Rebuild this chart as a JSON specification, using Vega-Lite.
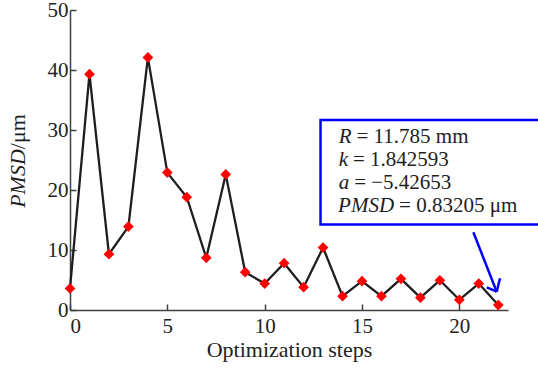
{
  "$schema": "https://vega.github.io/schema/vega-lite/v6.json",
  "width": 438,
  "height": 300,
  "autosize": {"type": "none"},
  "padding": {"left": 70, "top": 10, "right": 30, "bottom": 58},
  "background": "white",
  "config": {
    "view": {"stroke": null},
    "font": "Liberation Serif",
    "axis": {
      "grid": false,
      "domainColor": "#404040",
      "domainWidth": 1.5,
      "tickColor": "#404040",
      "tickWidth": 1.5,
      "tickSize": -6,
      "labelFont": "Liberation Serif",
      "labelFontSize": 21,
      "labelColor": "#222222",
      "titleFont": "Liberation Serif",
      "titleFontSize": 22,
      "titleFontWeight": "normal",
      "titleColor": "#222222"
    }
  },
  "datasets": {
    "series": [
      {"step": 0, "pmsd": 3.6},
      {"step": 1, "pmsd": 39.3},
      {"step": 2, "pmsd": 9.3},
      {"step": 3, "pmsd": 13.9},
      {"step": 4, "pmsd": 42.1},
      {"step": 5, "pmsd": 22.9},
      {"step": 6, "pmsd": 18.8},
      {"step": 7, "pmsd": 8.7},
      {"step": 8, "pmsd": 22.6},
      {"step": 9, "pmsd": 6.3},
      {"step": 10, "pmsd": 4.4},
      {"step": 11, "pmsd": 7.8},
      {"step": 12, "pmsd": 3.8},
      {"step": 13, "pmsd": 10.4},
      {"step": 14, "pmsd": 2.3},
      {"step": 15, "pmsd": 4.8},
      {"step": 16, "pmsd": 2.3},
      {"step": 17, "pmsd": 5.2},
      {"step": 18, "pmsd": 2.05},
      {"step": 19, "pmsd": 4.95},
      {"step": 20, "pmsd": 1.7},
      {"step": 21, "pmsd": 4.4},
      {"step": 22, "pmsd": 0.83}
    ],
    "one": [{"k": 1}]
  },
  "data": {"name": "series"},
  "layer": [
    {
      "mark": {"type": "line", "color": "#1e1e1e", "strokeWidth": 2.3},
      "encoding": {
        "x": {
          "field": "step", "type": "quantitative",
          "scale": {"domain": [0, 22.5], "nice": false, "zero": false},
          "axis": {"values": [0, 5, 10, 15, 20], "labelPadding": 11, "title": "Optimization steps", "titlePadding": 3}
        },
        "y": {
          "field": "pmsd", "type": "quantitative",
          "scale": {"domain": [0, 50], "nice": false},
          "axis": {"values": [0, 10, 20, 30, 40, 50], "labelPadding": 8, "title": null}
        }
      }
    },
    {
      "mark": {"type": "point", "shape": "diamond", "filled": true, "color": "#ff0000", "size": 115, "opacity": 1},
      "encoding": {
        "x": {"field": "step", "type": "quantitative"},
        "y": {"field": "pmsd", "type": "quantitative"}
      }
    },
    {
      "data": {"name": "one"},
      "mark": {"type": "rect", "fill": "white", "stroke": "#0000ff", "strokeWidth": 2.5, "clip": false},
      "encoding": {"x": {"datum": 12.87}, "x2": {"datum": 24.5}, "y": {"datum": 31.67}, "y2": {"datum": 14.25}}
    },
    {
      "data": {"name": "one"},
      "mark": {"type": "text", "text": "R", "font": "Liberation Serif", "fontStyle": "italic", "fontSize": 21, "align": "left", "baseline": "alphabetic", "color": "#1e1e1e"},
      "encoding": {"x": {"datum": 13.8}, "y": {"datum": 27.83}}
    },
    {
      "data": {"name": "one"},
      "mark": {"type": "text", "text": "= 11.785 mm", "font": "Liberation Serif", "fontSize": 21, "align": "left", "baseline": "alphabetic", "dx": 5, "color": "#1e1e1e"},
      "encoding": {"x": {"datum": 14.46}, "y": {"datum": 27.83}}
    },
    {
      "data": {"name": "one"},
      "mark": {"type": "text", "text": "k", "font": "Liberation Serif", "fontStyle": "italic", "fontSize": 21, "align": "left", "baseline": "alphabetic", "color": "#1e1e1e"},
      "encoding": {"x": {"datum": 13.8}, "y": {"datum": 24.0}}
    },
    {
      "data": {"name": "one"},
      "mark": {"type": "text", "text": "= 1.842593", "font": "Liberation Serif", "fontSize": 21, "align": "left", "baseline": "alphabetic", "dx": 5, "color": "#1e1e1e"},
      "encoding": {"x": {"datum": 14.28}, "y": {"datum": 24.0}}
    },
    {
      "data": {"name": "one"},
      "mark": {"type": "text", "text": "a", "font": "Liberation Serif", "fontStyle": "italic", "fontSize": 21, "align": "left", "baseline": "alphabetic", "color": "#1e1e1e"},
      "encoding": {"x": {"datum": 13.8}, "y": {"datum": 20.17}}
    },
    {
      "data": {"name": "one"},
      "mark": {"type": "text", "text": "= −5.42653", "font": "Liberation Serif", "fontStyle": "normal", "fontSize": 21, "align": "left", "baseline": "alphabetic", "dx": 5, "color": "#1e1e1e"},
      "encoding": {"x": {"datum": 14.34}, "y": {"datum": 20.17}}
    },
    {
      "data": {"name": "one"},
      "mark": {"type": "text", "text": "PMSD", "font": "Liberation Serif", "fontStyle": "italic", "fontSize": 21, "align": "left", "baseline": "alphabetic", "color": "#1e1e1e"},
      "encoding": {"x": {"datum": 13.77}, "y": {"datum": 16.33}}
    },
    {
      "data": {"name": "one"},
      "mark": {"type": "text", "text": "= 0.83205 μm", "font": "Liberation Serif", "fontSize": 21, "align": "left", "baseline": "alphabetic", "dx": 5, "color": "#1e1e1e"},
      "encoding": {"x": {"datum": 16.65}, "y": {"datum": 16.33}}
    },
    {
      "data": {"name": "one"},
      "mark": {"type": "text", "text": "PMSD", "font": "Liberation Serif", "fontStyle": "italic", "fontSize": 22, "align": "right", "baseline": "middle", "angle": 270, "color": "#1e1e1e"},
      "encoding": {"x": {"datum": -2.67}, "y": {"datum": 26.8}}
    },
    {
      "data": {"name": "one"},
      "mark": {"type": "text", "text": "/μm", "font": "Liberation Serif", "fontSize": 22, "align": "left", "baseline": "middle", "angle": 270, "color": "#1e1e1e"},
      "encoding": {"x": {"datum": -2.67}, "y": {"datum": 26.8}}
    },
    {
      "data": {"name": "one"},
      "mark": {"type": "rule", "color": "#0000ff", "strokeWidth": 2.5, "clip": false},
      "encoding": {"x": {"datum": 20.72}, "y": {"datum": 12.95}, "x2": {"datum": 21.92}, "y2": {"datum": 3.05}}
    },
    {
      "data": {"name": "one"},
      "mark": {"type": "rule", "color": "#0000ff", "strokeWidth": 2.5, "clip": false},
      "encoding": {"x": {"datum": 21.41}, "y": {"datum": 3.78}, "x2": {"datum": 21.92}, "y2": {"datum": 3.05}}
    },
    {
      "data": {"name": "one"},
      "mark": {"type": "rule", "color": "#0000ff", "strokeWidth": 2.5, "clip": false},
      "encoding": {"x": {"datum": 22.09}, "y": {"datum": 5.28}, "x2": {"datum": 21.92}, "y2": {"datum": 3.05}}
    }
  ]
}
